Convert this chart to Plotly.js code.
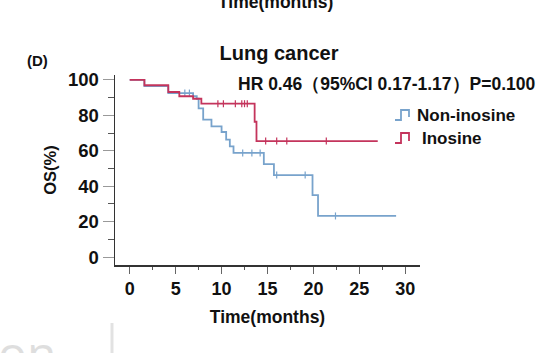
<!DOCTYPE html>
<html><head><meta charset="utf-8">
<script src="https://cdn.plot.ly/plotly-3.0.1.min.js"></script>
<style>html,body{margin:0;padding:0;background:#fff;}#c{width:537px;height:353px;}</style>
</head><body><div id="c"></div>
<script>
// Kaplan-Meier steps (months, OS %)
var nonTime = [0, 1.6, 4.2, 6.9, 7.3, 7.5, 8.0, 8.9, 10.0, 10.5, 10.9, 11.3, 14.6, 15.7, 19.9, 20.5, 29.0];
var nonSurv = [100, 96.5, 92.6, 90.8, 89.4, 84.0, 77.6, 73.8, 70.6, 66.3, 62.5, 58.8, 52.5, 46.3, 35.0, 23.2, 23.2];
var inoTime = [0, 1.6, 4.2, 5.4, 6.9, 7.8, 13.6, 13.8, 27.0];
var inoSurv = [100, 97.0, 93.2, 90.8, 89.4, 86.6, 76.4, 65.5, 65.5];
// censor marks
var nonCensT = [6.0, 6.5, 12.3, 13.3, 14.2, 16.0, 19.1, 22.4];
var nonCensS = [92.6, 92.6, 58.8, 58.8, 58.8, 46.3, 46.3, 23.2];
var inoCensT = [9.6, 10.2, 11.5, 12.2, 12.5, 12.8, 14.8, 16.0, 17.1, 21.4];
var inoCensS = [86.6, 86.6, 86.6, 86.6, 86.6, 86.6, 65.5, 65.5, 65.5, 65.5];
var seriesNames = ["Non-inosine", "Inosine"];
var xTicks = [0, 5, 10, 15, 20, 25, 30];
var yTicks = [0, 20, 40, 60, 80, 100];

var blue = "#78a3cc", red = "#c4345c";
var F = "Liberation Sans, Arial, sans-serif";

var traces = [
  {x: nonTime, y: nonSurv, mode: "lines", line: {shape: "hv", color: blue, width: 1.8}, hoverinfo: "none"},
  {x: nonCensT, y: nonCensS, mode: "markers", marker: {symbol: "line-ns-open", size: 5, color: blue, line: {color: blue, width: 1.2}}, hoverinfo: "none"},
  {x: inoTime, y: inoSurv, mode: "lines", line: {shape: "hv", color: red, width: 1.8}, hoverinfo: "none"},
  {x: inoCensT, y: inoCensS, mode: "markers", marker: {symbol: "line-ns-open", size: 5, color: red, line: {color: red, width: 1.2}}, hoverinfo: "none"}
];

var L = 115, R = 420, T = 75, B = 265, W = 537, H = 353;
function px(v){ return (v - L) / (R - L); }
function py(v){ return 1 - (v - T) / (B - T); }

var layout = {
  width: W, height: H,
  margin: {l: L, r: W - R, t: T, b: H - B, pad: 0},
  paper_bgcolor: "#fff", plot_bgcolor: "#fff",
  showlegend: false,
  font: {family: F, color: "#111"},
  title: {text: "<b>Lung cancer</b>", font: {family: F, size: 20, color: "#111"},
          xref: "paper", x: px(279), xanchor: "center", yref: "container", y: 1 - 53 / H, yanchor: "middle"},
  xaxis: {range: [-1.6, 31.6], tickmode: "array", tickvals: xTicks,
          ticktext: xTicks.map(function(v){return "<b>"+v+"</b>";}),
          showgrid: false, zeroline: false, showline: true, linecolor: "#333", linewidth: 1.5,
          ticks: "outside", ticklen: 7, tickcolor: "#666", tickwidth: 1,
          minor: {dtick: 2.5, tick0: 0, ticks: "outside", ticklen: 3, tickcolor: "#555"},
          tickfont: {family: F, size: 18, color: "#111"},
          title: {text: "<b>Time(months)</b>", font: {family: F, size: 17.5, color: "#111"}, standoff: 12}},
  yaxis: {range: [-4.5, 102.8], tickmode: "array", tickvals: yTicks,
          ticktext: yTicks.map(function(v){return "<b>"+v+"</b>";}),
          showgrid: false, zeroline: false, showline: true, linecolor: "#333", linewidth: 1.5,
          ticks: "outside", ticklen: 11, tickcolor: "#999", tickwidth: 1,
          minor: {dtick: 10, tick0: 0, ticks: "outside", ticklen: 6, tickcolor: "#555"},
          tickfont: {family: F, size: 18.5, color: "#111"},
          title: {text: "<b>OS(%)</b>", font: {family: F, size: 16.5, color: "#111"}, standoff: 7}},
  annotations: [
    {text: "<b>Time(months)</b>", xref: "paper", yref: "paper", x: px(275), y: py(2), xanchor: "center", yanchor: "middle", showarrow: false, font: {family: F, size: 17.5, color: "#111"}},
    {text: "<b>(D)</b>", xref: "paper", yref: "paper", x: px(37), y: py(60), xanchor: "center", yanchor: "middle", showarrow: false, font: {family: F, size: 15, color: "#111"}},
    {text: "<b>HR 0.46（95%CI 0.17-1.17）P=0.100</b>", xref: "paper", yref: "paper", x: px(236), y: py(84), xanchor: "left", yanchor: "middle", showarrow: false, font: {family: F, size: 17.5, color: "#111"}},
    {text: "<b>" + seriesNames[0] + "</b>", xref: "paper", yref: "paper", x: px(415), y: py(115), xanchor: "left", yanchor: "middle", showarrow: false, font: {family: F, size: 17, color: "#111"}},
    {text: "<b>" + seriesNames[1] + "</b>", xref: "paper", yref: "paper", x: px(420), y: py(138), xanchor: "left", yanchor: "middle", showarrow: false, font: {family: F, size: 17, color: "#111"}},
    {text: "on", xref: "paper", yref: "paper", x: px(-4), y: py(318), xanchor: "left", yanchor: "top", showarrow: false, font: {family: "Open Sans, sans-serif", size: 48, color: "#dedede"}}
  ],
  shapes: [
    {type: "path", xref: "paper", yref: "paper", path: "M " + px(395) + "," + py(120) + " L " + px(401) + "," + py(120) + " L " + px(401) + "," + py(110) + " L " + px(409) + "," + py(110) + " L " + px(409) + "," + py(117), line: {color: blue, width: 1.8}},
    {type: "path", xref: "paper", yref: "paper", path: "M " + px(395) + "," + py(143) + " L " + px(401) + "," + py(143) + " L " + px(401) + "," + py(133) + " L " + px(409) + "," + py(133) + " L " + px(409) + "," + py(141), line: {color: red, width: 1.8}},
    {type: "line", xref: "paper", yref: "paper", x0: px(112), x1: px(112), y0: py(323), y1: py(353), line: {color: "#e2e2e2", width: 3}}
  ]
};
Plotly.newPlot("c", traces, layout, {staticPlot: true, displayModeBar: false});
</script></body></html>
